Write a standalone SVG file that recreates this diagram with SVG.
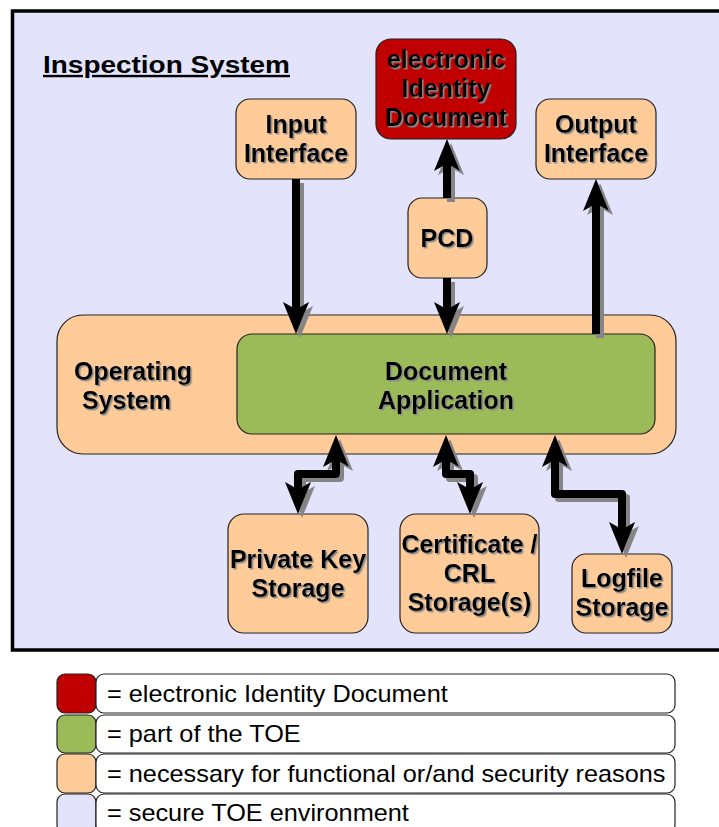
<svg xmlns="http://www.w3.org/2000/svg" width="719" height="827" viewBox="0 0 719 827">
  <style>
    .box { stroke: #222; stroke-width: 1.2; }
    .peach { fill: #FFCC99; }
    .green { fill: #9BBB59; }
    .red { fill: #C00000; }
    .env { fill: #E3E3FB; }
    .lbl { font-family: "Liberation Sans", Arial, sans-serif; font-weight: bold; font-size: 25px; fill: #000; text-anchor: middle; filter: url(#txtShadow); }
    .legtxt { font-family: "Liberation Sans", Arial, sans-serif; font-size: 23px; fill: #000; }
    .wire { fill: none; stroke: #000; stroke-width: 8; stroke-linejoin: round; }
  </style>
  <defs>
    <filter id="txtShadow" x="-10%" y="-20%" width="130%" height="150%">
      <feDropShadow dx="1.5" dy="1.5" stdDeviation="0" flood-color="#8a8a8a" flood-opacity="1"/>
    </filter>
    <filter id="wireShadow" x="-50%" y="-20%" width="200%" height="140%">
      <feDropShadow dx="4" dy="4" stdDeviation="0" flood-color="#858585" flood-opacity="1"/>
    </filter>
    <marker id="head" markerUnits="userSpaceOnUse" markerWidth="40" markerHeight="40" refX="0" refY="0" orient="auto-start-reverse" overflow="visible">
      <path d="M20,0 L-12,-13 L-7,-4 L-7,4 L-12,13 Z" fill="#000"/>
    </marker>
  </defs>

  <!-- secure environment frame -->
  <g id="inspection-system">
    <rect x="12.5" y="11" width="720" height="639" class="env" stroke="#000" stroke-width="3.5"/>
    <text transform="translate(43,73) scale(1.165,1)" font-family="Liberation Sans, Arial, sans-serif" font-weight="bold" font-size="24" text-decoration="underline">Inspection System</text>
  </g>

  <g id="eid">
    <rect x="376" y="39" width="140" height="100" rx="15" class="box red"/>
    <text class="lbl" x="446"><tspan x="446" y="68">electronic</tspan><tspan x="446" y="97">Identity</tspan><tspan x="446" y="126">Document</tspan></text>
  </g>

  <g id="input-interface">
    <rect x="236" y="99" width="120" height="80" rx="14" class="box peach"/>
    <text class="lbl"><tspan x="296" y="133">Input</tspan><tspan x="296" y="162">Interface</tspan></text>
  </g>

  <g id="output-interface">
    <rect x="536" y="99" width="120" height="80" rx="14" class="box peach"/>
    <text class="lbl"><tspan x="596" y="133">Output</tspan><tspan x="596" y="162">Interface</tspan></text>
  </g>

  <g id="pcd">
    <rect x="408" y="198" width="79" height="80" rx="14" class="box peach"/>
    <text class="lbl" x="447" y="247">PCD</text>
  </g>

  <g id="operating-system">
    <rect x="57" y="315" width="619" height="139" rx="26" class="box peach"/>
    <text class="lbl" style="text-anchor:start"><tspan x="74" y="380">Operating</tspan><tspan x="82" y="409">System</tspan></text>
  </g>

  <g id="document-application">
    <rect x="237" y="334" width="418" height="100" rx="15" class="box green"/>
    <text class="lbl"><tspan x="446" y="380">Document</tspan><tspan x="446" y="409">Application</tspan></text>
  </g>

  <g id="private-key-storage">
    <rect x="228" y="514" width="140" height="119" rx="16" class="box peach"/>
    <text class="lbl"><tspan x="298" y="568">Private Key</tspan><tspan x="298" y="597">Storage</tspan></text>
  </g>

  <g id="certificate-storage">
    <rect x="400" y="514" width="139" height="119" rx="16" class="box peach"/>
    <text class="lbl"><tspan x="469.5" y="553">Certificate /</tspan><tspan x="469.5" y="582">CRL</tspan><tspan x="469.5" y="611">Storage(s)</tspan></text>
  </g>

  <g id="logfile-storage">
    <rect x="572" y="554" width="100" height="79" rx="14" class="box peach"/>
    <text class="lbl"><tspan x="622" y="587">Logfile</tspan><tspan x="622" y="616">Storage</tspan></text>
  </g>

  <!-- data flows -->
  <g id="connectors" filter="url(#wireShadow)">
    <path class="wire" d="M296,179 V314" marker-end="url(#head)"/>
    <path class="wire" d="M447,198 V159" marker-end="url(#head)"/>
    <path class="wire" d="M447,278 V314" marker-end="url(#head)"/>
    <path class="wire" d="M596,334 V199" marker-end="url(#head)"/>
    <path class="wire" d="M336,455 V474 H298 V494" marker-start="url(#head)" marker-end="url(#head)"/>
    <path class="wire" d="M446,455 V474 H470 V494" marker-start="url(#head)" marker-end="url(#head)"/>
    <path class="wire" d="M555,455 V494 H622 V534" marker-start="url(#head)" marker-end="url(#head)"/>
  </g>

  <!-- colour key -->
  <g id="legend">
    <rect x="57" y="674" width="39" height="39" rx="8" class="box red"/>
    <rect x="96" y="674" width="579" height="39" rx="8" fill="#fff" stroke="#222" stroke-width="1.2"/>
    <text class="legtxt" transform="translate(107,702) scale(1.1,1)">= electronic Identity Document</text>

    <rect x="57" y="715" width="39" height="38" rx="8" class="box green"/>
    <rect x="96" y="715" width="579" height="38" rx="8" fill="#fff" stroke="#222" stroke-width="1.2"/>
    <text class="legtxt" transform="translate(107,742) scale(1.1,1)">= part of the TOE</text>

    <rect x="57" y="754" width="39" height="39" rx="8" class="box peach"/>
    <rect x="96" y="754" width="579" height="39" rx="8" fill="#fff" stroke="#222" stroke-width="1.2"/>
    <text class="legtxt" transform="translate(107,782) scale(1.1,1)">= necessary for functional or/and security reasons</text>

    <rect x="57" y="794" width="39" height="39" rx="8" class="box env"/>
    <rect x="96" y="794" width="579" height="39" rx="8" fill="#fff" stroke="#222" stroke-width="1.2"/>
    <text class="legtxt" transform="translate(107,821) scale(1.1,1)">= secure TOE environment</text>
  </g>
</svg>
